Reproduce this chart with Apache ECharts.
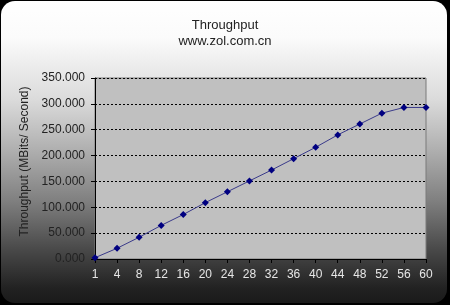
<!DOCTYPE html>
<html>
<head>
<meta charset="utf-8">
<script src="https://cdn.jsdelivr.net/npm/echarts@6/dist/echarts.min.js"></script>
<style>
html,body{margin:0;padding:0;background:#000;}
#c{width:450px;height:305px;}
</style>
</head>
<body>
<div id="c"></div>
<script>
const categories = ['1','4','8','12','16','20','24','28','32','36','40','44','48','52','56','60'];
const throughput = [2.5, 20.7, 42, 65, 86, 109, 130, 151, 172, 194, 216, 240, 261, 282, 293, 293];
const yTicks = {min: 0, max: 350, interval: 50};

const chart = echarts.init(document.getElementById('c'), null, {renderer: 'canvas'});
const font = 'Arial, "Liberation Sans", sans-serif';
chart.setOption({
  backgroundColor: '#000',
  animation: false,
  graphic: [{
    type: 'rect',
    z: -10,
    silent: true,
    shape: {x: 1, y: 1, width: 446, height: 302, r: 14},
    style: {
      fill: new echarts.graphic.LinearGradient(0, 0, 0, 1, [
        {offset: 0, color: '#ffffff'},
        {offset: 0.12, color: '#fbfbfb'},
        {offset: 0.33, color: '#dadada'},
        {offset: 0.49, color: '#b0b0b0'},
        {offset: 0.66, color: '#808080'},
        {offset: 0.82, color: '#4a4a4a'},
        {offset: 0.95, color: '#222222'},
        {offset: 1, color: '#1a1a1a'}
      ])
    }
  }],
  title: {
    text: 'Throughput',
    subtext: 'www.zol.com.cn',
    left: 'center',
    top: 14,
    itemGap: 3,
    textStyle: {fontFamily: font, fontSize: 13, fontWeight: 'normal', color: '#222'},
    subtextStyle: {fontFamily: font, fontSize: 13, color: '#222'}
  },
  grid: {
    left: 95, right: 24, top: 78, bottom: 46,
    show: true,
    backgroundColor: '#c0c0c0',
    borderColor: '#7a7a7a',
    borderWidth: 1
  },
  xAxis: {
    type: 'category',
    data: categories,
    boundaryGap: false,
    axisLine: {lineStyle: {color: '#000', width: 1}},
    axisTick: {show: true, length: 4, lineStyle: {color: '#000'}},
    axisLabel: {fontFamily: font, fontSize: 12, color: '#e6e6e6', margin: 10},
    splitLine: {show: false}
  },
  yAxis: {
    type: 'value',
    min: yTicks.min, max: yTicks.max, interval: yTicks.interval,
    name: 'Throughput (MBits/ Second)',
    nameLocation: 'middle',
    nameGap: 61,
    nameRotate: 90,
    nameTextStyle: {fontFamily: font, fontSize: 12, color: '#222', padding: [0, 0, 0, 14]},
    axisLine: {show: true, lineStyle: {color: '#000', width: 1}},
    axisTick: {show: true, length: 4, lineStyle: {color: '#000'}},
    axisLabel: {fontFamily: font, fontSize: 12, color: '#222', margin: 10,
      formatter: v => v.toFixed(3)},
    splitLine: {show: true, lineStyle: {color: '#000', type: [2, 2], width: 1}}
  },
  series: [{
    type: 'line',
    data: throughput,
    symbol: 'diamond',
    symbolSize: 7,
    lineStyle: {color: '#3a3a8a', width: 1},
    itemStyle: {color: '#000080'}
  }]
});
</script>
</body>
</html>
